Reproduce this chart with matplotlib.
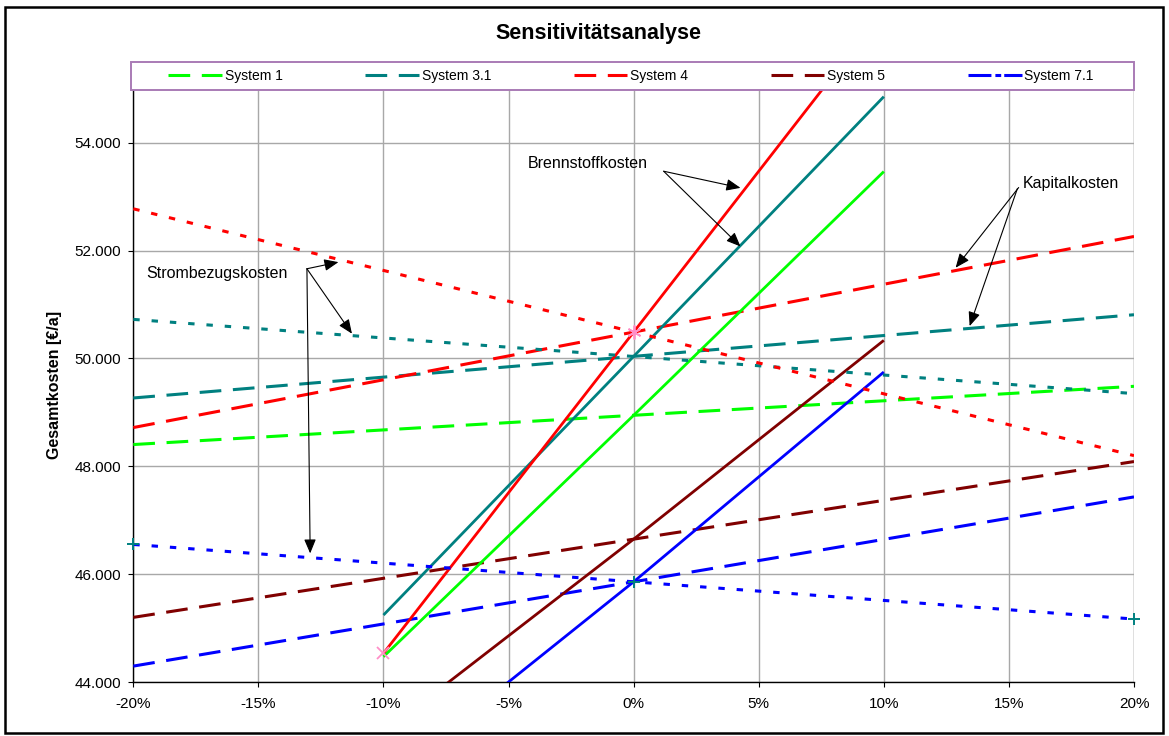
import matplotlib
matplotlib.use("Agg")
import matplotlib.pyplot as plt
from matplotlib.lines import Line2D
from matplotlib.patches import Rectangle
from matplotlib.ticker import FuncFormatter

plt.rcParams['font.family'] = ['Liberation Sans', 'DejaVu Sans']

# --- data -------------------------------------------------------------
systems = ["System 1", "System 3.1", "System 4", "System 5", "System 7.1"]
colors = ["#00FF00", "#008080", "#FF0000", "#800000", "#0000FF"]

# variation of the respective cost component [%]
pct_wide = [-20, -10, 0, 10, 20]
pct_fuel = [-10, 0, 10]

# Gesamtkosten [€/a] when the capital costs vary (dashed)
kapital_s1 = [48405, 48676, 48947, 49216, 49484]
kapital_s31 = [49268, 49654, 50039, 50425, 50810]
kapital_s4 = [48720, 49605, 50489, 51375, 52260]
kapital_s5 = [45203, 45927, 46652, 47371, 48090]
kapital_s71 = [44300, 45081, 45862, 46648, 47435]

# Gesamtkosten [€/a] when the fuel costs vary (solid)
brennstoff_s1 = [44474, 48947, 53463]
brennstoff_s31 = [45246, 50039, 54851]
brennstoff_s4 = [44537, 50489, 56450]
brennstoff_s5 = [43070, 46652, 50335]
brennstoff_s71 = [42150, 45862, 49749]

# Gesamtkosten [€/a] when the cost of purchased electricity varies (dotted)
strom_s31 = [50724, 50380, 50037, 49693, 49349]
strom_s4 = [52773, 51631, 50489, 49345, 48200]
strom_s71 = [46554, 46208, 45862, 45517, 45172]

# highlighted points
pink_x_pct = [-10]
pink_x_val = [44537]
pink_star_pct = [0]
pink_star_val = [50489]
teal_plus_pct = [-20, 0, 20]
teal_plus_val = [46554, 45862, 45172]

y_ticks = [44000, 46000, 48000, 50000, 52000, 54000]
x_ticks = [-20, -15, -10, -5, 0, 5, 10, 15, 20]

# --- figure -----------------------------------------------------------
W, H = 1169, 736
fig = plt.figure(figsize=(W / 100, H / 100), dpi=100)
fig.patch.set_facecolor("white")


def fx(px):
    return px / W


def fy(py):
    return 1 - py / H


ax = fig.add_axes([fx(133.3), fy(682.3), fx(1134) - fx(133.3), fy(88.6) - fy(682.3)])

DASH = (0, (7.1, 3.8))
DOT = (0, (2.1, 3.9))
LW_D = 2.2
LW_S = 2.0

kapital = [kapital_s1, kapital_s31, kapital_s4, kapital_s5, kapital_s71]
brennstoff = [brennstoff_s1, brennstoff_s31, brennstoff_s4, brennstoff_s5, brennstoff_s71]

for vals, c in zip(kapital, colors):
    ax.plot(pct_wide, vals, color=c, lw=LW_D, linestyle=DASH, zorder=3)

for vals, c in zip(brennstoff, colors):
    ax.plot(pct_fuel, vals, color=c, lw=LW_S, solid_capstyle="butt", zorder=3)

for vals, c in [(strom_s31, colors[1]), (strom_s4, colors[2]), (strom_s71, colors[4])]:
    ax.plot(pct_wide, vals, color=c, lw=LW_D, linestyle=DOT, zorder=3)

ax.plot(pink_x_pct, pink_x_val, linestyle="none", marker="x", ms=9, mew=1.3,
        color="#ff8fc8", zorder=4, clip_on=False)
ax.plot(pink_star_pct, pink_star_val, linestyle="none", marker=(6, 2, 0), ms=10,
        mew=1.3, color="#ff8fc8", zorder=4, clip_on=False)
ax.plot(teal_plus_pct, teal_plus_val, linestyle="none", marker="+", ms=9, mew=1.4,
        color="#008080", zorder=4, clip_on=False)

ax.set_xlim(-20, 20)
ax.set_ylim(44000, 55000)
ax.set_xticks(x_ticks)
ax.set_yticks(y_ticks)
ax.xaxis.set_major_formatter(FuncFormatter(lambda v, p: f"{v:.0f}%"))
ax.yaxis.set_major_formatter(FuncFormatter(lambda v, p: f"{int(round(v)):,}".replace(",", ".")))

ax.grid(True, color="#a8a8a8", lw=1.0, zorder=1)
ax.set_axisbelow(True)
for s in ["top", "right"]:
    ax.spines[s].set_visible(False)
for s in ["left", "bottom"]:
    ax.spines[s].set_color("black")
    ax.spines[s].set_linewidth(1.0)
ax.tick_params(direction="out", length=3.6, width=0.8, color="black",
               labelsize=11, colors="black")
ax.tick_params(axis="y", pad=5)
ax.tick_params(axis="x", pad=7)

# right gridline at +20 % is drawn explicitly so it stays visible at the edge
ax.axvline(20, color="#a8a8a8", lw=1.0, zorder=1)

# --- annotations ------------------------------------------------------
def arrow(start, tip):
    ax.annotate("", xy=tip, xytext=start,
                arrowprops=dict(arrowstyle="-|>,head_length=8.6,head_width=3.6",
                                mutation_scale=1, color="black", lw=0.8,
                                shrinkA=0, shrinkB=0),
                zorder=6)

ax.text(-4.25, 53611, "Brennstoffkosten", fontsize=11.5, va="center", ha="left", zorder=6)
arrow((1.2, 53469), (4.27, 53161))
arrow((1.2, 53469), (4.27, 52075))

ax.text(15.55, 53247, "Kapitalkosten", fontsize=11.5, va="center", ha="left", zorder=6)
arrow((15.39, 53167), (12.87, 51681))
arrow((15.34, 53149), (13.43, 50600))

ax.text(-19.5, 51570, "Strombezugskosten", fontsize=11.5, va="center", ha="left", zorder=6)
arrow((-13.06, 51662), (-11.80, 51785))
arrow((-13.06, 51662), (-11.26, 50459))
arrow((-13.06, 51662), (-12.93, 46388))

# --- title, axis label, legend, frame ---------------------------------
fig.text(fx(598), fy(34), "Sensitivitätsanalyse", fontsize=15.5, fontweight="bold",
         ha="center", va="center")
fig.text(fx(55), fy(385), "Gesamtkosten [€/a]", fontsize=11.5, fontweight="bold",
         rotation=90, ha="center", va="center")

fig.add_artist(Rectangle((fx(131.3), fy(90)), fx(1134) - fx(131.3), fy(61.7) - fy(90),
                         transform=fig.transFigure, facecolor="white",
                         edgecolor="#a97bb5", lw=1.4, zorder=3))

handles = []
for name, c in zip(systems, colors):
    style = (0, (7.5, 1.3, 1.9, 1.0)) if name == "System 7.1" else DASH
    handles.append(Line2D([], [], color=c, lw=LW_D, linestyle=style))
leg = fig.legend(handles, systems, loc="center left",
                 bbox_to_anchor=(fx(168.4), fy(76)), bbox_transform=fig.transFigure,
                 ncol=5, frameon=False, fontsize=10, handlelength=3.87,
                 handletextpad=0.19, columnspacing=5.95, borderpad=0, borderaxespad=0)
leg.set_zorder(5)

fig.add_artist(Rectangle((fx(5), fy(733)), fx(1163) - fx(5), fy(7) - fy(733),
                         transform=fig.transFigure, facecolor="none",
                         edgecolor="black", lw=1.8, zorder=6))

fig.savefig("out.png", dpi=100, facecolor="white")
